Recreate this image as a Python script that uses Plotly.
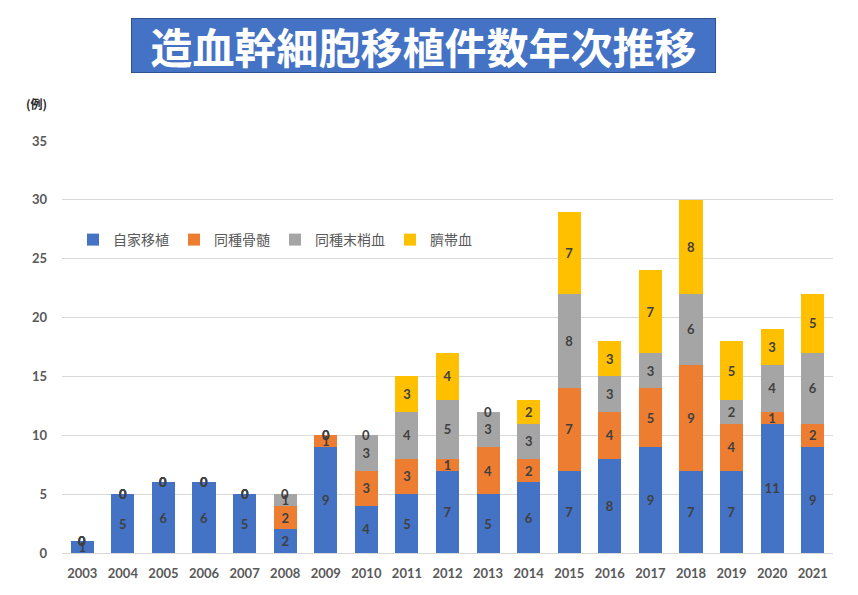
import plotly.graph_objects as go

years = [str(y) for y in range(2003, 2022)]
series_names = ["自家移植", "同種骨髄", "同種末梢血", "臍帯血"]
autologous = [1, 5, 6, 6, 5, 2, 9, 4, 5, 7, 5, 6, 7, 8, 9, 7, 7, 11, 9]
allo_bm =    [0, 0, 0, 0, 0, 2, 1, 3, 3, 1, 4, 2, 7, 4, 5, 9, 4, 1, 2]
allo_pb =    [0, 0, 0, 0, 0, 1, 0, 3, 4, 5, 3, 3, 8, 3, 3, 6, 2, 4, 6]
cord_blood = [0, 0, 0, 0, 0, 0, 0, 0, 3, 4, 0, 2, 7, 3, 7, 8, 5, 3, 5]
colors = ["#4472C4", "#ED7D31", "#A5A5A5", "#FFC000"]
y_ticks = [0, 5, 10, 15, 20, 25, 30, 35]

title_text = "造血幹細胞移植件数年次推移"
unit_text = "(例)"

all_series = [autologous, allo_bm, allo_pb, cord_blood]

# page body has an 8px margin, so the figure is offset by 8px
OFF = 8
W, H = 858 - OFF, 595 - OFF
ml, mr, mt, mb = 62 - OFF, 25, 141 - OFF, 42
pw, ph = W - ml - mr, H - mt - mb
plot_left, plot_bottom = 62, 553  # page pixels

num_font = "Lato, 'Noto Sans CJK JP', sans-serif"
jp_font = "'Noto Sans CJK JP', sans-serif"

def px_x(px):
    return (px - plot_left) / pw

def px_y(py):
    return (plot_bottom - py) / ph

fig = go.Figure()
for name, vals, col in zip(series_names, all_series, colors):
    fig.add_trace(go.Bar(
        x=years, y=vals, name=name, marker=dict(color=col, line=dict(width=0)),
        text=[str(v) if v != 0 else "" for v in vals],
        textposition="inside", insidetextanchor="middle", textangle=0,
        constraintext="none",
        textfont=dict(family=num_font, size=13, color="#404040", weight="bold"),
        hoverinfo="skip",
    ))

annotations = []
# zero-value labels sit at the top of the stack
cum = [0] * len(years)
for vals in all_series:
    for i, v in enumerate(vals):
        cum[i] += v
    for i, v in enumerate(vals):
        if v == 0:
            annotations.append(dict(
                x=i, y=cum[i], xref="x", yref="y", text="0", showarrow=False,
                yanchor="middle", xanchor="center",
                font=dict(family=num_font, size=13, color="#404040", weight="bold"),
            ))

annotations.append(dict(
    x=px_x(423.5), y=px_y(45.5), xref="paper", yref="paper",
    text="<b>" + title_text + "</b>", showarrow=False,
    xanchor="center", yanchor="middle",
    width=581, height=51, bgcolor="#4472C4", bordercolor="#2F528F", borderwidth=1,
    font=dict(family=jp_font, size=42, color="white"),
))
annotations.append(dict(
    x=px_x(36), y=px_y(103), xref="paper", yref="paper",
    text="<b>" + unit_text + "</b>", showarrow=False,
    xanchor="center", yanchor="middle",
    font=dict(family=jp_font, size=12, color="#262626"),
))

fig.update_layout(
    width=W, height=H,
    margin=dict(l=ml, r=mr, t=mt, b=mb, pad=0),
    barmode="stack", bargap=0.43,
    plot_bgcolor="white", paper_bgcolor="white",
    showlegend=True,
    legend=dict(
        orientation="h", x=px_x(73), y=px_y(240),
        xanchor="left", yanchor="middle",
        font=dict(family=jp_font, size=14, color="#595959"),
        bgcolor="rgba(0,0,0,0)", itemwidth=30,
        traceorder="normal",
    ),
    annotations=annotations,
    xaxis=dict(
        type="category", range=[-0.5, len(years) - 0.5],
        showgrid=False, showline=True, linecolor="#D9D9D9",
        ticks="", ticklabelstandoff=8,
        tickfont=dict(family=num_font, size=13, color="#595959", weight="bold"),
    ),
    yaxis=dict(
        range=[0, 35], tickvals=y_ticks, showgrid=True, gridcolor="#D9D9D9",
        zeroline=False, showline=False, ticks="", ticklabelstandoff=14,
        tickfont=dict(family=num_font, size=13, color="#595959", weight="bold"),
    ),
)

fig.write_html("out.html")
